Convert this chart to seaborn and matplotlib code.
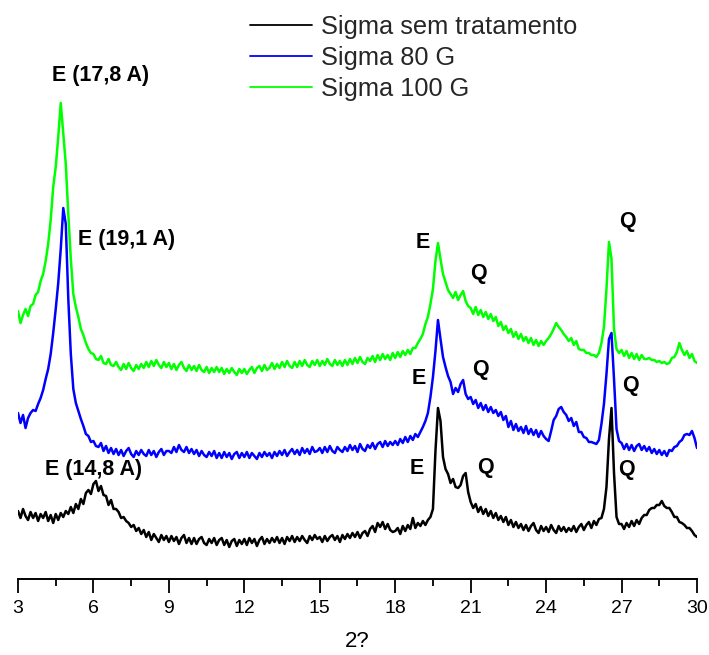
import numpy as np
import pandas as pd
import matplotlib
matplotlib.use("Agg")
import matplotlib.pyplot as plt
import seaborn as sns
from matplotlib.ticker import MultipleLocator

# ---------------- data ----------------
# scan positions (2-theta, step 0.1 deg)
two_theta = np.round(np.linspace(3.0, 30.0, 271), 1)

series_names = ["Sigma sem tratamento", "Sigma 80 G", "Sigma 100 G"]

# intensities (arbitrary units, curves already offset as in the figure)
sigma_sem = [
    68, 61, 70, 63, 59, 67, 61, 66, 58, 65,
    61, 67, 58, 64, 56, 65, 59, 66, 62, 68,
    65, 72, 66, 75, 70, 80, 75, 86, 89, 85,
    95, 98, 88, 93, 84, 83, 74, 79, 70, 70,
    67, 61, 62, 58, 56, 52, 54, 48, 51, 45,
    49, 42, 47, 39, 45, 41, 37, 44, 39, 43,
    37, 43, 38, 42, 35, 41, 44, 36, 41, 35,
    41, 35, 40, 42, 36, 34, 40, 36, 41, 34,
    39, 41, 34, 39, 32, 38, 40, 33, 39, 35,
    40, 34, 41, 36, 40, 33, 39, 42, 35, 40,
    36, 41, 37, 42, 36, 41, 35, 42, 38, 43,
    37, 42, 38, 43, 39, 36, 43, 39, 44, 40,
    42, 37, 43, 38, 42, 44, 39, 43, 37, 44,
    40, 45, 41, 46, 42, 47, 41, 46, 48, 43,
    50, 53, 47, 56, 52, 57, 50, 55, 49, 47,
    48, 51, 45, 53, 48, 54, 50, 61, 51, 56,
    53, 58, 54, 59, 62, 70, 128, 171, 158, 122,
    110, 105, 96, 100, 92, 91, 94, 103, 106, 87,
    77, 71, 75, 67, 72, 65, 70, 63, 68, 61,
    66, 59, 63, 57, 62, 54, 59, 52, 57, 51,
    55, 49, 54, 48, 53, 56, 49, 46, 53, 48,
    52, 47, 54, 49, 46, 53, 48, 52, 47, 51,
    48, 53, 47, 52, 55, 49, 54, 57, 51, 58,
    54, 60, 61, 70, 92, 140, 171, 106, 62, 55,
    55, 50, 56, 52, 58, 53, 59, 55, 61, 64,
    64, 69, 71, 71, 74, 74, 78, 73, 71, 71,
    67, 62, 62, 57, 56, 54, 51, 51, 48, 44,
    42,
]

sigma_80 = [
    166, 156, 164, 151, 161, 166, 169, 168, 175, 181,
    189, 200, 210, 225, 246, 270, 296, 330, 371, 355,
    280, 225, 190, 176, 168, 160, 153, 145, 143, 137,
    138, 133, 132, 136, 128, 133, 126, 131, 125, 130,
    124, 129, 123, 128, 131, 125, 122, 128, 124, 129,
    125, 123, 129, 124, 128, 122, 127, 130, 124, 128,
    128, 126, 132, 127, 134, 129, 127, 132, 126, 130,
    125, 129, 123, 128, 124, 122, 127, 123, 128, 121,
    126, 121, 127, 122, 126, 120, 125, 127, 121, 126,
    122, 127, 121, 126, 123, 120, 126, 122, 127, 123,
    126, 121, 127, 123, 128, 124, 129, 123, 127, 130,
    125, 129, 124, 131, 126, 130, 125, 132, 127, 128,
    131, 126, 132, 127, 133, 128, 126, 132, 129, 127,
    132, 128, 134, 129, 133, 127, 135, 130, 128, 134,
    131, 136, 130, 135, 137, 132, 138, 133, 137, 134,
    138, 134, 140, 136, 142, 137, 143, 139, 145, 142,
    147, 152, 158, 166, 182, 202, 228, 259, 240, 222,
    212, 203, 197, 185, 191, 187, 195, 199, 185, 180,
    182, 175, 179, 171, 176, 169, 174, 167, 172, 166,
    169, 163, 167, 159, 163, 152, 158, 149, 155, 148,
    152, 146, 153, 145, 150, 144, 149, 142, 148, 143,
    140, 138, 148, 159, 163, 170, 172, 167, 164, 158,
    161, 153, 157, 147, 147, 142, 141, 137, 137, 136,
    135, 139, 155, 175, 205, 240, 246, 200, 150, 138,
    136, 130, 135, 129, 134, 128, 133, 135, 129, 133,
    128, 132, 126, 130, 125, 129, 124, 128, 123, 129,
    128, 132, 133, 137, 139, 144, 145, 144, 148, 141,
    131,
]

sigma_100 = [
    268, 256, 264, 270, 263, 273, 275, 284, 287, 298,
    305, 318, 335, 359, 392, 412, 442, 476, 445, 415,
    365, 320, 285, 272, 262, 250, 244, 236, 230, 226,
    225, 220, 219, 223, 216, 215, 220, 214, 213, 217,
    212, 209, 215, 210, 216, 211, 208, 214, 210, 215,
    211, 217, 212, 218, 213, 219, 214, 211, 217, 212,
    216, 210, 215, 209, 214, 217, 211, 208, 214, 209,
    213, 208, 214, 209, 207, 212, 206, 211, 207, 212,
    207, 211, 205, 210, 206, 211, 207, 204, 210, 206,
    210, 205, 209, 212, 206, 211, 213, 208, 214, 209,
    211, 216, 210, 215, 211, 217, 212, 218, 213, 211,
    217, 212, 218, 213, 219, 214, 212, 218, 214, 219,
    213, 218, 214, 220, 215, 213, 219, 214, 218, 213,
    219, 214, 220, 215, 221, 216, 222, 217, 215, 221,
    218, 223, 217, 224, 219, 225, 220, 224, 219, 226,
    221, 227, 222, 228, 224, 229, 225, 231, 231, 236,
    240, 245, 255, 262, 275, 290, 318, 336, 320, 305,
    297, 289, 285, 281, 287, 279, 284, 288, 278, 273,
    271, 265, 272, 264, 269, 262, 267, 260, 265, 258,
    262, 253, 257, 249, 253, 246, 250, 242, 247, 240,
    245, 238, 242, 236, 241, 234, 239, 233, 238, 234,
    238, 241, 245, 250, 256, 252, 249, 245, 242, 238,
    241, 234, 238, 230, 229, 229, 226, 226, 224, 224,
    222, 226, 236, 252, 290, 337, 320, 250, 230, 226,
    229, 223, 228, 221, 226, 220, 225, 219, 224, 220,
    220, 221, 219, 219, 217, 218, 216, 217, 215, 216,
    221, 222, 227, 236, 229, 224, 228, 221, 225, 218,
    216,
]

x_ticks = [3, 6, 9, 12, 15, 18, 21, 24, 27, 30]
x_label = "2?"

# peak annotations: (text, 2-theta, intensity)
peak_labels = [
    ("E (17,8 A)", 6.3, 504),
    ("E (19,1 A)", 7.3, 339),
    ("E (14,8 A)", 6.0, 110),
    ("E", 19.1, 337),
    ("Q", 21.3, 306),
    ("E", 18.95, 201),
    ("Q", 21.4, 210),
    ("E", 18.85, 111),
    ("Q", 21.6, 111),
    ("Q", 27.25, 358),
    ("Q", 27.35, 193),
    ("Q", 27.2, 109),
]

# ---------------- plot ----------------
sns.set_style("white")
plt.rcParams["font.family"] = ["Liberation Sans", "DejaVu Sans"]

df = pd.DataFrame({
    "two_theta": np.concatenate([two_theta] * 3),
    "intensity": np.concatenate([sigma_sem, sigma_80, sigma_100]),
    "amostra": np.repeat(series_names, len(two_theta)),
})

colors = {"Sigma sem tratamento": "#000000", "Sigma 80 G": "#0000ff", "Sigma 100 G": "#00ff00"}

fig = plt.figure(figsize=(7.09, 6.55), dpi=100)
ax = fig.add_axes([18 / 709, 76 / 655, 679 / 709, 579 / 655])

for name in ["Sigma 100 G", "Sigma 80 G", "Sigma sem tratamento"]:
    sub = df[df["amostra"] == name]
    sns.lineplot(data=sub, x="two_theta", y="intensity", color=colors[name],
                 linewidth=1.8, ax=ax, sort=False, estimator=None, label=name)

hl, lb = ax.get_legend_handles_labels()
hmap = dict(zip(lb, hl))

ax.set_xlim(3, 30)
ax.set_ylim(0, 579)
for s in ["left", "top", "right"]:
    ax.spines[s].set_visible(False)
ax.spines["bottom"].set_linewidth(1.4)
ax.spines["bottom"].set_color("black")
ax.set_yticks([])
ax.set_ylabel("")
ax.set_xticks(x_ticks)
ax.set_xticklabels([str(t) for t in x_ticks])
ax.xaxis.set_minor_locator(MultipleLocator(1.5))
ax.tick_params(axis="x", which="major", direction="out", bottom=True, length=10,
               width=1.3, color="black", labelsize=14, pad=5, labelcolor="black")
ax.tick_params(axis="x", which="minor", direction="out", bottom=True, length=5,
               width=1.3, color="black")
ax.set_xlabel(x_label, fontsize=16, labelpad=10, color="black")

for txt, xv, yv in peak_labels:
    ax.text(xv, yv, txt, ha="center", va="center", fontsize=15.5,
            fontweight="bold", color="black")

leg = ax.legend([hmap[n] for n in series_names], series_names,
                loc="upper left", bbox_to_anchor=(250 / 709, 1 - 15 / 655),
                bbox_transform=fig.transFigure, frameon=False, fontsize=18.3,
                handlelength=2.45, handletextpad=0.35, labelspacing=0.27,
                borderpad=0, borderaxespad=0)
for line in leg.get_lines():
    line.set_linewidth(1.3)

fig.savefig("out.png", dpi=100)
